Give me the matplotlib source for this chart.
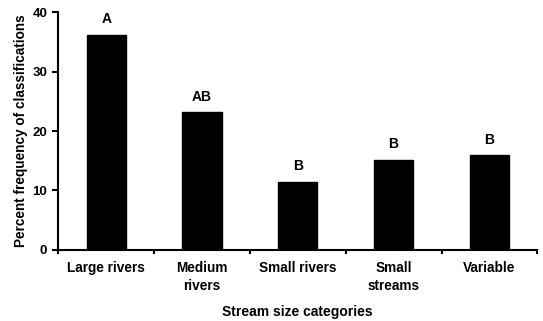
import matplotlib
matplotlib.use("Agg")
import matplotlib.pyplot as plt

categories = ["Large rivers", "Medium\nrivers", "Small rivers", "Small\nstreams", "Variable"]
values = [36.2, 23.2, 11.5, 15.2, 15.9]
letters = ["A", "AB", "B", "B", "B"]
yticks = [0, 10, 20, 30, 40]

plt.rcParams['font.family'] = ['Liberation Sans', 'DejaVu Sans']
plt.rcParams['font.weight'] = 'bold'

fig = plt.figure(figsize=(5.43, 3.21), dpi=100)
ax = fig.add_axes([0.1074, 0.2212, 0.8821, 0.7414])

x = list(range(len(categories)))
ax.bar(x, values, width=0.41, color='black', edgecolor='black')
ax.set_xlim(-0.5, len(categories) - 0.5)
ax.set_ylim(0, 40)
ax.set_yticks(yticks)
ax.set_yticklabels([str(t) for t in yticks], fontsize=9.5, fontweight='bold')

ax.set_xticks([i + 0.5 for i in range(-1, len(categories))])
ax.set_xticklabels([])
ax.tick_params(axis='x', direction='out', length=3, width=1.5)
ax.tick_params(axis='y', direction='out', length=4, width=1.5, pad=4)
for i, c in enumerate(categories):
    ax.text(i, -0.045, c, transform=ax.get_xaxis_transform(), ha='center', va='top',
            fontsize=9.8, fontweight='bold', linespacing=1.4)

for xi, v, l in zip(x, values, letters):
    ax.annotate(l, (xi, v), xytext=(0, 6), textcoords='offset points',
                ha='center', va='bottom', fontsize=10, fontweight='bold')

for s in ['top', 'right']:
    ax.spines[s].set_visible(False)
for s in ['left', 'bottom']:
    ax.spines[s].set_linewidth(1.5)

ax.set_ylabel("Percent frequency of classifications", fontsize=9.8, fontweight='bold', labelpad=3)
fig.text(0.5475, 0.028, "Stream size categories", ha='center', va='center', fontsize=10, fontweight='bold')

fig.savefig("out.png", dpi=100)
